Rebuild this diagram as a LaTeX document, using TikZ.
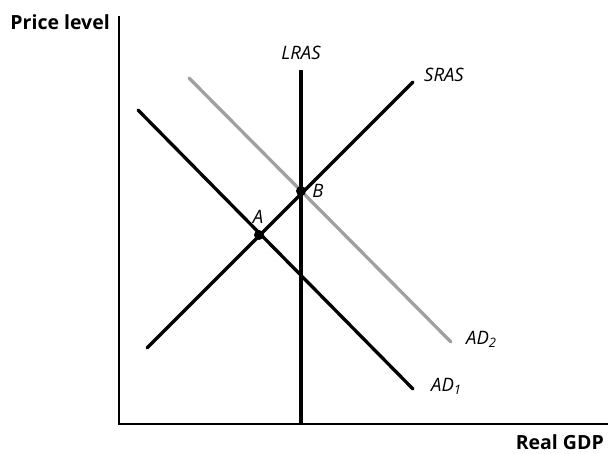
\documentclass[tikz,border=0pt]{standalone}
\usepackage{fontspec}
\setmainfont{Open Sans}
\begin{document}
\begin{tikzpicture}[x=1pt,y=-1pt,
  curve/.style={line width=3.3pt,line cap=round},
  axis/.style={line width=1.8pt},
  axlabel/.style={font=\fontsize{19.5}{22}\selectfont\bfseries,inner sep=0pt},
  clabel/.style={font=\fontsize{18.5}{22}\selectfont\itshape,inner sep=0pt},
  dot/.style={circle,fill=black,inner sep=0pt,minimum size=10pt}]
\useasboundingbox (0,0) rectangle (609,453);
\definecolor{lgray}{RGB}{160,160,160}
% axes
\coordinate (o) at (119,424);
\coordinate (ytop) at (119,16);
\coordinate (xend) at (608,424);
\draw[axis] (ytop) -- (o) -- (xend);
\node[axlabel,anchor=base east] (py) at (110,29) {Price level};
\node[axlabel,anchor=base east] (rg) at (604,449) {Real GDP};
% LRAS
\coordinate (l1) at (301,70);
\coordinate (l2) at (301,424);
\draw[curve,line cap=butt] (l1) -- (l2);
\node[clabel,anchor=base] (lras) at (301,59.5) {LRAS};
% AD2 (gray)
\coordinate (d2a) at (189,78);
\coordinate (d2b) at (451,342);
\draw[curve,lgray] (d2a) -- (d2b);
\node[clabel,anchor=base west] (ad2) at (466,344.5) {AD\textsubscript{2}};
% AD1
\coordinate (d1a) at (138,110);
\coordinate (d1b) at (413,389);
\draw[curve] (d1a) -- (d1b);
\node[clabel,anchor=base west] (ad1) at (431,391.5) {AD\textsubscript{1}};
% SRAS
\coordinate (s1) at (147,348);
\coordinate (s2) at (413,82);
\draw[curve] (s1) -- (s2);
\node[clabel,anchor=base west] (sras) at (424,81.5) {SRAS};
% points
\node[dot] (B) at (301,191) {};
\node[clabel,anchor=base] (bl) at (318,197.5) {B};
\node[dot] (A) at (259,235) {};
\node[clabel,anchor=base] (al) at (258,223.5) {A};
\end{tikzpicture}
\end{document}
